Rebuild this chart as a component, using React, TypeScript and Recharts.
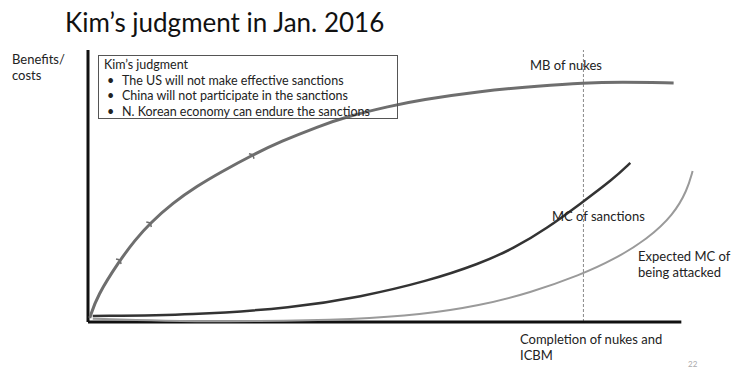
import React from 'react';
import { LineChart, Line, XAxis, YAxis, ReferenceLine } from 'recharts';

// curve shapes (x = progress, y = benefits/costs)
const mbOfNukes = [
  { x: 0.3, y: 1.5 },
  { x: 1.5, y: 9.5 },
  { x: 5.4, y: 22.8 },
  { x: 7.9, y: 30.1 },
  { x: 10.5, y: 36.4 },
  { x: 14.3, y: 43.8 },
  { x: 18.4, y: 50.0 },
  { x: 22.3, y: 55.0 },
  { x: 27.8, y: 61.5 },
  { x: 32.4, y: 66.3 },
  { x: 39.1, y: 72.1 },
  { x: 43.3, y: 75.3 },
  { x: 50.9, y: 79.4 },
  { x: 56.0, y: 81.6 },
  { x: 66.1, y: 84.9 },
  { x: 76.2, y: 86.8 },
  { x: 83.5, y: 87.9 },
  { x: 89.7, y: 88.2 },
  { x: 98.7, y: 87.9 },
];
const mbArrowIdx = [2, 4, 8];

const mcSanctions = [
  { x: 0.8, y: 2.2 },
  { x: 17.7, y: 2.6 },
  { x: 34.6, y: 5.2 },
  { x: 45.9, y: 9.2 },
  { x: 57.2, y: 15.0 },
  { x: 66.1, y: 21.5 },
  { x: 71.7, y: 27.0 },
  { x: 77.4, y: 34.5 },
  { x: 83.0, y: 43.5 },
  { x: 88.5, y: 52.5 },
  { x: 91.4, y: 58.5 },
];

const mcAttacked = [
  { x: 0.8, y: 1.2 },
  { x: 12.1, y: 0.4 },
  { x: 29.0, y: 0.2 },
  { x: 45.0, y: 1.0 },
  { x: 56.0, y: 2.6 },
  { x: 66.1, y: 6.0 },
  { x: 74.5, y: 10.7 },
  { x: 83.0, y: 17.3 },
  { x: 88.5, y: 22.8 },
  { x: 94.3, y: 30.5 },
  { x: 98.7, y: 39.5 },
  { x: 101.0, y: 48.5 },
  { x: 101.9, y: 55.5 },
];

const completionX = 83.5;
const judgmentItems = [
  'The US will not make effective sanctions',
  'China will not participate in the sanctions',
  'N. Korean economy can endure the sanctions',
];

const font = 'Lato, "Open Sans", sans-serif';

const ArrowDot = (props: any) => {
  const { cx, cy, index } = props;
  if (!mbArrowIdx.includes(index)) return <g key={index} />;
  return (
    <path
      key={index}
      d={`M${cx - 4},${cy - 1} L${cx},${cy} L${cx + 1},${cy + 4}`}
      stroke="#6e6e6e"
      strokeWidth={1.5}
      fill="none"
    />
  );
};

const label = (left: number, top: number, size = 13): React.CSSProperties => ({
  position: 'absolute',
  left,
  top,
  fontSize: size,
  fontFamily: font,
  color: '#222',
  lineHeight: 1.25,
  whiteSpace: 'nowrap',
});

export default function App() {
  return (
    <div style={{ position: 'absolute', left: 0, top: 0, width: 735, height: 369, background: '#fff', overflow: 'hidden' }}>
      <LineChart width={735} height={369} margin={{ top: 50, right: 24, bottom: 47, left: 88 }}>
        <XAxis type="number" dataKey="x" domain={[0, 105]} hide />
        <YAxis type="number" dataKey="y" domain={[0, 100]} hide />
        <ReferenceLine x={completionX} stroke="#8a8a8a" strokeWidth={1} strokeDasharray="3 2" />
        <ReferenceLine x={0} stroke="#111" strokeWidth={3} />
        <ReferenceLine segment={[{ x: 0, y: 0 }, { x: 100, y: 0 }]} stroke="#111" strokeWidth={3} />
        <Line data={mcAttacked} dataKey="y" type="basis" stroke="#9a9a9a" strokeWidth={2} dot={false} isAnimationActive={false} />
        <Line data={mcSanctions} dataKey="y" type="basis" stroke="#333" strokeWidth={2.5} dot={false} isAnimationActive={false} />
        <Line data={mbOfNukes} dataKey="y" type="basis" stroke="#6e6e6e" strokeWidth={3} dot={ArrowDot} isAnimationActive={false} />
      </LineChart>

      <div style={{ ...label(65, 6, 26), color: '#111' }}>Kim’s judgment in Jan. 2016</div>
      <div style={label(12, 51)}>Benefits/<br />costs</div>

      <div
        style={{
          position: 'absolute',
          left: 98,
          top: 55,
          width: 300,
          height: 64,
          border: '1px solid #555',
          boxSizing: 'border-box',
          fontFamily: font,
          fontSize: 12.5,
          color: '#222',
          lineHeight: '15.5px',
          padding: '1px 0 0 5px',
          whiteSpace: 'nowrap',
        }}
      >
        <div>Kim’s judgment</div>
        {judgmentItems.map((t) => (
          <div key={t}>
            <span style={{ display: 'inline-block', width: 18, paddingLeft: 3, boxSizing: 'border-box' }}>•</span>
            {t}
          </div>
        ))}
      </div>

      <div style={label(530, 57)}>MB of nukes</div>
      <div style={label(552, 208)}>MC of sanctions</div>
      <div style={label(638, 248)}>Expected MC of<br />being attacked</div>
      <div style={label(520, 331)}>Completion of nukes and<br />ICBM</div>
      <div style={{ ...label(688, 359, 8), color: '#aaa' }}>22</div>
    </div>
  );
}
